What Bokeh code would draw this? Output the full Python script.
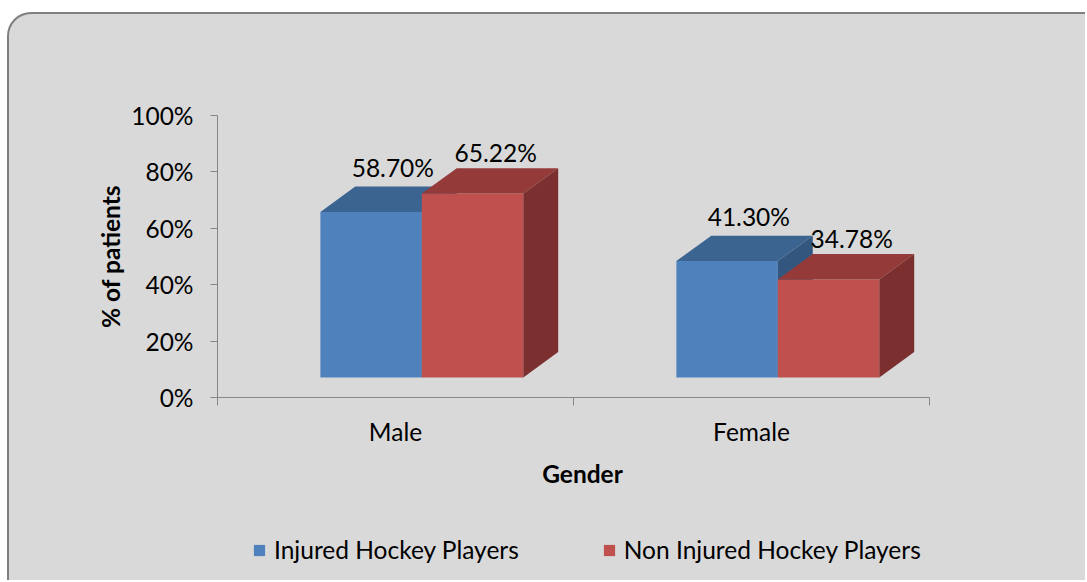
import numpy as np
from bokeh.plotting import figure
from bokeh.models import (Range1d, FixedTicker, Legend, LegendItem, ColumnDataSource,
                          LinearAxis)
from bokeh.core.properties import value
from bokeh.embed import file_html
from bokeh.resources import INLINE

# ---- data ----
categories = ["Male", "Female"]
series_names = ["Injured Hockey Players", "Non Injured Hockey Players"]
injured = [58.70, 41.30]
non_injured = [65.22, 34.78]
injured_labels = ["58.70%", "41.30%"]
non_injured_labels = ["65.22%", "34.78%"]
y_ticks = [0, 20, 40, 60, 80, 100]
y_tick_labels = ["0%", "20%", "40%", "60%", "80%", "100%"]
x_title = "Gender"
y_title = "% of patients"

# ---- layout (pixels) ----
W, H = 1078, 568              # canvas size
CANVAS_X, CANVAS_Y = 9, 14    # canvas origin on page
AX_X, AX_Y = 217, 397         # page position of data origin
PX_X = 356.0                  # px per category
PX_Y = 2.82                   # px per percent
x_lo = -(AX_X - CANVAS_X) / PX_X
x_hi = (CANVAS_X + W - AX_X) / PX_X
y_lo = -(CANVAS_Y + H - AX_Y) / PX_Y
y_hi = (AX_Y - CANVAS_Y) / PX_Y

# ---- style / geometry constants ----
FONT = "Lato"
FS = "24.5px"
FLOOR = 7.1     # 3D floor lift (data units)
DY = 9.0        # depth, vertical (data units)
DX = 0.098      # depth, horizontal (category units)
GAP = 0.289     # offset of first bar inside category
BW = 0.285      # bar width
LABEL_DX = [0.061, 0.065]
LABEL_DY = [6.9, 5.5]
colors = [
    dict(front="#4f81bd", top="#3c6491", side="#33567f"),
    dict(front="#c0504d", top="#943b39", side="#7b2f2e"),
]
AXIS_COLOR = "#868686"

p = figure(width=W, height=H, output_backend="svg", toolbar_location=None,
           x_range=Range1d(x_lo, x_hi), y_range=Range1d(y_lo, y_hi),
           x_axis_location=None, y_axis_location=None,
           min_border_left=0, min_border_right=0, min_border_top=0, min_border_bottom=0)
p.background_fill_alpha = 0
p.border_fill_alpha = 0
p.outline_line_color = None
p.grid.visible = False
p.styles = {
    "margin-top": "12px",
    "margin-left": "7px",
    "border-top": "2px solid #7f7f7f",
    "border-left": "2px solid #7f7f7f",
    "border-top-left-radius": "24px",
    "background-color": "#d9d9d9",
}

legend_items = []
all_series = [(injured, injured_labels), (non_injured, non_injured_labels)]
for j, (vals, labs) in enumerate(all_series):
    vals = np.array(vals, dtype=float)
    idx = np.arange(len(categories))
    left = idx + GAP + j * BW
    right = left + BW
    bottom = np.full_like(vals, FLOOR)
    top = FLOOR + vals
    c = colors[j]
    fr = p.quad(left=left, right=right, bottom=bottom, top=top,
                fill_color=c["front"], line_color=None)
    tops_x = [[l, r, r + DX, l + DX] for l, r in zip(left, right)]
    tops_y = [[t, t, t + DY, t + DY] for t in top]
    p.patches(tops_x, tops_y, fill_color=c["top"], line_color=None)
    side_x = [[r, r + DX, r + DX, r] for r in right]
    side_y = [[FLOOR, FLOOR + DY, t + DY, t] for t in top]
    p.patches(side_x, side_y, fill_color=c["side"], line_color=None)
    src = ColumnDataSource(dict(x=left + BW / 2 + LABEL_DX[j],
                                y=top + DY + LABEL_DY[j], t=labs))
    p.text(x="x", y="y", text="t", source=src, text_font=value(FONT),
           text_font_size=FS, text_color="#000000",
           text_align="center", text_baseline="middle")
    legend_items.append(LegendItem(label=series_names[j], renderers=[fr]))

# x axis at y=0: category labels at centres, ticks at category boundaries
xa = LinearAxis(fixed_location=0, bounds=(0, len(categories)))
xa.ticker = FixedTicker(ticks=[i + 0.5 for i in range(len(categories))],
                        minor_ticks=list(range(len(categories) + 1)))
xa.major_label_overrides = {i + 0.5: c for i, c in enumerate(categories)}
xa.major_tick_line_color = None
xa.major_tick_out = 0
xa.major_tick_in = 0
xa.minor_tick_line_color = AXIS_COLOR
xa.minor_tick_out = 8
xa.minor_tick_in = 0
xa.axis_line_color = AXIS_COLOR
xa.major_label_text_font = FONT
xa.major_label_text_font_size = FS
xa.major_label_text_color = "#000000"
xa.major_label_standoff = 11
p.add_layout(xa, "below")

# y axis at x=0
ya = LinearAxis(fixed_location=0, bounds=(y_ticks[0], y_ticks[-1]))
ya.ticker = FixedTicker(ticks=y_ticks, minor_ticks=[])
ya.major_label_overrides = {t: l for t, l in zip(y_ticks, y_tick_labels)}
ya.major_tick_line_color = AXIS_COLOR
ya.major_tick_out = 7
ya.major_tick_in = 0
ya.minor_tick_line_color = None
ya.axis_line_color = AXIS_COLOR
ya.major_label_text_font = FONT
ya.major_label_text_font_size = FS
ya.major_label_text_color = "#000000"
ya.major_label_standoff = 17
p.add_layout(ya, "left")

# axis titles (positions from page pixels)
titles = ColumnDataSource(dict(
    x=[(582 - AX_X) / PX_X, (110 - AX_X) / PX_X],
    y=[-(473 - AX_Y) / PX_Y, (AX_Y - 256) / PX_Y],
    t=[x_title, y_title],
    a=[0.0, np.pi / 2],
))
p.text(x="x", y="y", text="t", angle="a", source=titles, text_font=value(FONT),
       text_font_size=FS, text_font_style="bold", text_color="#000000",
       text_align="center", text_baseline="middle")

legend = Legend(items=legend_items, orientation="horizontal",
                location=(252 - CANVAS_X, CANVAS_Y + H - 564),
                glyph_width=14, glyph_height=14, label_standoff=8, spacing=83,
                label_text_font=FONT, label_text_font_size=FS,
                label_text_color="#000000", background_fill_alpha=0,
                border_line_color=None, margin=0, padding=0)
p.add_layout(legend, "center")

open("out.html", "w").write(file_html(p, INLINE))
